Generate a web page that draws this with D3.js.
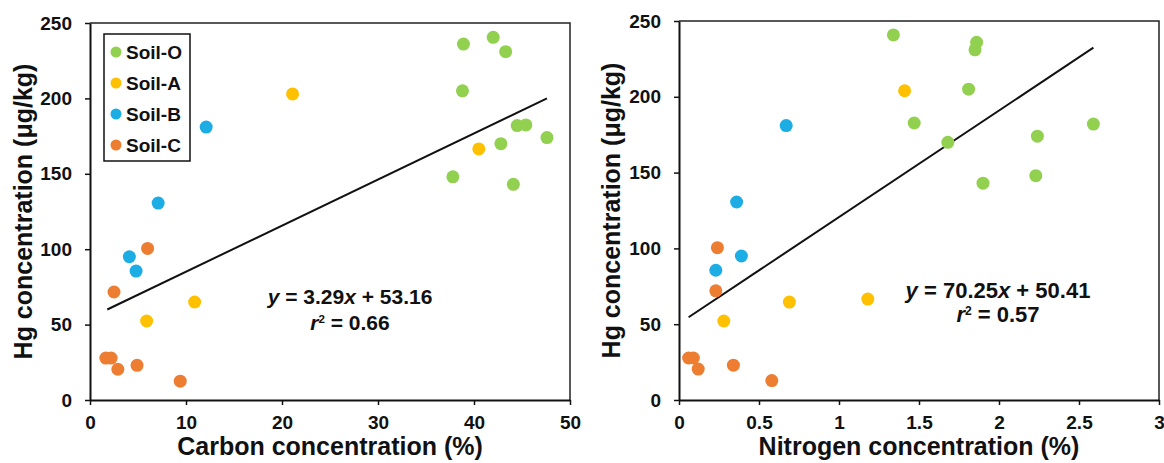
<!DOCTYPE html>
<html lang="en">
<head>
<meta charset="UTF-8">
<title>Hg vs C and N</title>
<style>
  body { margin: 0; background: #fff; }
  text { font-family: "Liberation Sans", Arial, sans-serif; font-weight: bold; fill: #111; }
</style>
</head>
<body>
<div id="chart"></div>
<script src="https://d3js.org/d3.v7.min.js"></script>
<script>
// soil groups and colours
const soils = ["Soil-O", "Soil-A", "Soil-B", "Soil-C"];
const soilColors = ["#92D050", "#FFC000", "#1CADE4", "#ED7D31"];

// carbon (%) vs Hg (ug/kg)
const carbonPoints = [
  {soil: "Soil-O", x: 42.0, y: 240.5}, {soil: "Soil-O", x: 38.9, y: 236}, {soil: "Soil-O", x: 43.3, y: 231},
  {soil: "Soil-O", x: 38.8, y: 205}, {soil: "Soil-O", x: 44.5, y: 182}, {soil: "Soil-O", x: 45.4, y: 182.4},
  {soil: "Soil-O", x: 47.6, y: 174}, {soil: "Soil-O", x: 42.8, y: 170}, {soil: "Soil-O", x: 37.8, y: 148},
  {soil: "Soil-O", x: 44.1, y: 143},
  {soil: "Soil-A", x: 21.1, y: 203}, {soil: "Soil-A", x: 40.5, y: 166.5}, {soil: "Soil-A", x: 10.9, y: 65},
  {soil: "Soil-A", x: 5.9, y: 52.4},
  {soil: "Soil-B", x: 12.1, y: 181}, {soil: "Soil-B", x: 7.1, y: 130.6}, {soil: "Soil-B", x: 4.1, y: 95},
  {soil: "Soil-B", x: 4.8, y: 85.5},
  {soil: "Soil-C", x: 6.0, y: 100.5}, {soil: "Soil-C", x: 2.5, y: 71.6}, {soil: "Soil-C", x: 1.65, y: 27.8},
  {soil: "Soil-C", x: 2.2, y: 27.8}, {soil: "Soil-C", x: 2.9, y: 20.4}, {soil: "Soil-C", x: 4.9, y: 23},
  {soil: "Soil-C", x: 9.4, y: 12.5}
];

// nitrogen (%) vs Hg (ug/kg)
const nitrogenPoints = [
  {soil: "Soil-O", x: 1.34, y: 240.8}, {soil: "Soil-O", x: 1.86, y: 236}, {soil: "Soil-O", x: 1.85, y: 231},
  {soil: "Soil-O", x: 1.81, y: 205}, {soil: "Soil-O", x: 1.47, y: 182.7}, {soil: "Soil-O", x: 2.59, y: 182},
  {soil: "Soil-O", x: 2.24, y: 174}, {soil: "Soil-O", x: 1.68, y: 170}, {soil: "Soil-O", x: 2.23, y: 148},
  {soil: "Soil-O", x: 1.90, y: 143},
  {soil: "Soil-A", x: 1.41, y: 204}, {soil: "Soil-A", x: 1.18, y: 66.6}, {soil: "Soil-A", x: 0.69, y: 64.6},
  {soil: "Soil-A", x: 0.28, y: 52.1},
  {soil: "Soil-B", x: 0.67, y: 181}, {soil: "Soil-B", x: 0.36, y: 130.6}, {soil: "Soil-B", x: 0.39, y: 95},
  {soil: "Soil-B", x: 0.23, y: 85.6},
  {soil: "Soil-C", x: 0.24, y: 100.5}, {soil: "Soil-C", x: 0.23, y: 72}, {soil: "Soil-C", x: 0.06, y: 27.7},
  {soil: "Soil-C", x: 0.09, y: 27.7}, {soil: "Soil-C", x: 0.12, y: 20.4}, {soil: "Soil-C", x: 0.34, y: 23},
  {soil: "Soil-C", x: 0.58, y: 12.8}
];

// trend lines (end points as drawn)
const carbonTrend = [{x: 1.8, y: 60}, {x: 47.6, y: 200}];
const nitrogenTrend = [{x: 0.06, y: 54.6}, {x: 2.59, y: 232.4}];

const carbonTicks = [0, 10, 20, 30, 40, 50];
const nitrogenTicks = [0, 0.5, 1, 1.5, 2, 2.5, 3];
const hgTicks = [0, 50, 100, 150, 200, 250];

const width = 1164, height = 463;
const svg = d3.select("#chart").append("svg")
  .attr("width", width).attr("height", height);

const color = d3.scaleOrdinal().domain(soils).range(soilColors);

function panel(opt) {
  const x = d3.scaleLinear().domain(opt.xDomain).range([opt.left, opt.right]);
  const y = d3.scaleLinear().domain([0, 250]).range([400, opt.top]);
  const g = svg.append("g");

  // frame (top and right)
  g.append("path")
    .attr("d", "M" + opt.left + "," + opt.top + "H" + opt.right + "V400")
    .attr("fill", "none").attr("stroke", "#222").attr("stroke-width", 1.5);

  const xAxis = g.append("g").attr("transform", "translate(0,400)")
    .call(d3.axisBottom(x).tickValues(opt.xTicks).tickSize(5).tickPadding(11).tickSizeOuter(0)
      .tickFormat(d3.format("")));
  const yAxis = g.append("g").attr("transform", "translate(" + opt.left + ",0)")
    .call(d3.axisLeft(y).tickValues(hgTicks).tickSize(5).tickPadding(13).tickSizeOuter(0));
  [xAxis, yAxis].forEach(a => {
    a.select(".domain").attr("stroke", "#111").attr("stroke-width", 2);
    a.selectAll(".tick line").attr("stroke", "#111").attr("stroke-width", 1.5);
    a.selectAll(".tick text").style("font-size", "19px").attr("fill", "#111");
  });

  // trend line
  g.append("path").datum(opt.trend)
    .attr("d", d3.line().x(d => x(d.x)).y(d => y(d.y)))
    .attr("fill", "none").attr("stroke", "#111").attr("stroke-width", 2);

  // points
  g.selectAll("circle.pt").data(opt.points).enter().append("circle")
    .attr("class", "pt")
    .attr("cx", d => x(d.x)).attr("cy", d => y(d.y)).attr("r", 6.5)
    .attr("fill", d => color(d.soil));

  // axis titles
  g.append("text")
    .attr("x", (opt.left + opt.right) / 2).attr("y", 455)
    .attr("text-anchor", "middle").style("font-size", "25px")
    .text(opt.xTitle);
  g.append("text")
    .attr("transform", "translate(" + opt.yTitleX + "," + (opt.top + 400) / 2 + ") rotate(-90)")
    .attr("text-anchor", "middle").style("font-size", "25px")
    .text("Hg concentration (μg/kg)");

  // equation
  const eq = g.append("text").attr("x", opt.eqX).attr("y", opt.eqY)
    .attr("text-anchor", "middle").style("font-size", opt.eqSize + "px");
  eq.append("tspan").style("font-style", "italic").text("y");
  eq.append("tspan").text(" = " + opt.slope);
  eq.append("tspan").style("font-style", "italic").text("x");
  eq.append("tspan").text(" + " + opt.intercept);
  const r2 = g.append("text").attr("x", opt.eqX).attr("y", opt.eqY + opt.eqGap)
    .attr("text-anchor", "middle").style("font-size", opt.eqSize + "px");
  r2.append("tspan").style("font-style", "italic").text("r");
  r2.append("tspan").attr("dy", -7).style("font-size", (opt.eqSize * 0.55) + "px").text("2");
  r2.append("tspan").attr("dy", 7).text(" = " + opt.r2);
  return {x, y, g};
}

panel({
  left: 90, right: 570, top: 23, xDomain: [0, 50], xTicks: carbonTicks,
  points: carbonPoints, trend: carbonTrend,
  xTitle: "Carbon concentration (%)", yTitleX: 32,
  eqX: 350, eqY: 304, eqGap: 26, eqSize: 21, slope: "3.29", intercept: "53.16", r2: "0.66"
});

panel({
  left: 679, right: 1159, top: 21, xDomain: [0, 3], xTicks: nitrogenTicks,
  points: nitrogenPoints, trend: nitrogenTrend,
  xTitle: "Nitrogen concentration (%)", yTitleX: 620,
  eqX: 998, eqY: 298, eqGap: 24, eqSize: 22, slope: "70.25", intercept: "50.41", r2: "0.57"
});

// legend
const legend = svg.append("g");
legend.append("rect")
  .attr("x", 104).attr("y", 34).attr("width", 86).attr("height", 127)
  .attr("fill", "#fff").attr("stroke", "#111").attr("stroke-width", 1.5);
const item = legend.selectAll("g.item").data(soils).enter().append("g")
  .attr("class", "item")
  .attr("transform", (d, i) => "translate(116," + (52 + i * 31) + ")");
item.append("circle").attr("r", 5.5).attr("fill", d => color(d));
item.append("text").attr("x", 10).attr("dy", "0.36em").style("font-size", "19px").text(d => d);
</script>
</body>
</html>
